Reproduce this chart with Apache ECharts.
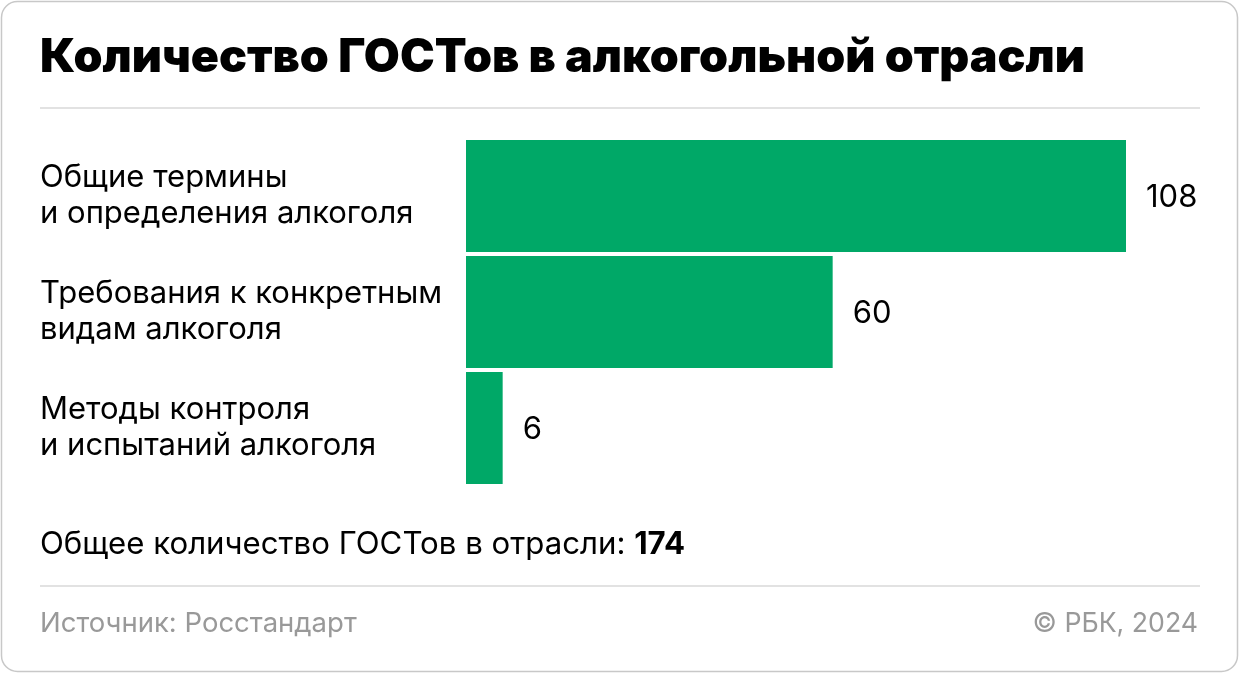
<!DOCTYPE html>
<html><head><meta charset="utf-8">
<script src="https://cdn.jsdelivr.net/npm/echarts@6/dist/echarts.min.js"></script>
<style>html,body{margin:0;padding:0;background:#fff}#c{width:1240px;height:674px}</style>
</head><body><div id="c"></div>
<script>
const categories = ['Общие термины\nи определения алкоголя', 'Требования к конкретным\nвидам алкоголя', 'Методы контроля\nи испытаний алкоголя'];
const values = [108, 60, 6];
const titleText = 'Количество ГОСТов в алкогольной отрасли';
const totalLabel = 'Общее количество ГОСТов в отрасли: ';
const totalValue = 174;
const sourceText = 'Источник: Росстандарт';
const creditText = '© РБК, 2024';

const FONT = 'Inter, "Noto Sans", sans-serif';
const chart = echarts.init(document.getElementById('c'), null, {renderer: 'canvas'});
chart.setOption({
  backgroundColor: '#fff',
  animation: false,
  title: {
    text: titleText, left: 35, top: 30,
    textStyle: {fontFamily: FONT, fontSize: 46.5, fontWeight: 900, color: '#000'}
  },
  grid: {left: 466, right: 114, top: 138, height: 348},
  xAxis: {type: 'value', min: 0, max: 108, show: false},
  yAxis: {
    type: 'category', data: categories, inverse: true,
    axisLine: {show: false}, axisTick: {show: false},
    axisLabel: {margin: 426, align: 'left', padding: [4, 0, 0, 0], fontFamily: FONT, fontSize: 31, lineHeight: 36, color: '#000'}
  },
  series: [{
    type: 'bar', data: values, barCategoryGap: '3.4%',
    itemStyle: {color: '#00A867'},
    label: {show: true, position: 'right', distance: 20, offset: [0, 2], fontFamily: FONT, fontSize: 31, color: '#000'}
  }],
  graphic: [
    {type: 'rect', shape: {x: 1.5, y: 1.5, width: 1236, height: 670, r: 16}, style: {fill: 'none', stroke: '#c8c8c8', lineWidth: 1.5}, z: -1},
    {type: 'line', shape: {x1: 40, y1: 108, x2: 1200, y2: 108}, style: {stroke: '#e2e2e2', lineWidth: 2}},
    {type: 'line', shape: {x1: 40, y1: 586, x2: 1200, y2: 586}, style: {stroke: '#e2e2e2', lineWidth: 2}},
    {type: 'text', left: 40, top: 529, style: {
      text: '{n|' + totalLabel + '}{b|' + totalValue + '}',
      rich: {n: {fontFamily: FONT, fontSize: 31.2, color: '#000'}, b: {fontFamily: FONT, fontSize: 31.2, fontWeight: 700, color: '#000'}}
    }},
    {type: 'text', left: 40, top: 610, style: {text: sourceText, fontFamily: FONT, fontSize: 27.5, fill: '#999'}},
    {type: 'text', right: 42, top: 610, style: {text: creditText, fontFamily: FONT, fontSize: 26.7, fill: '#999'}}
  ]
});
</script></body></html>
